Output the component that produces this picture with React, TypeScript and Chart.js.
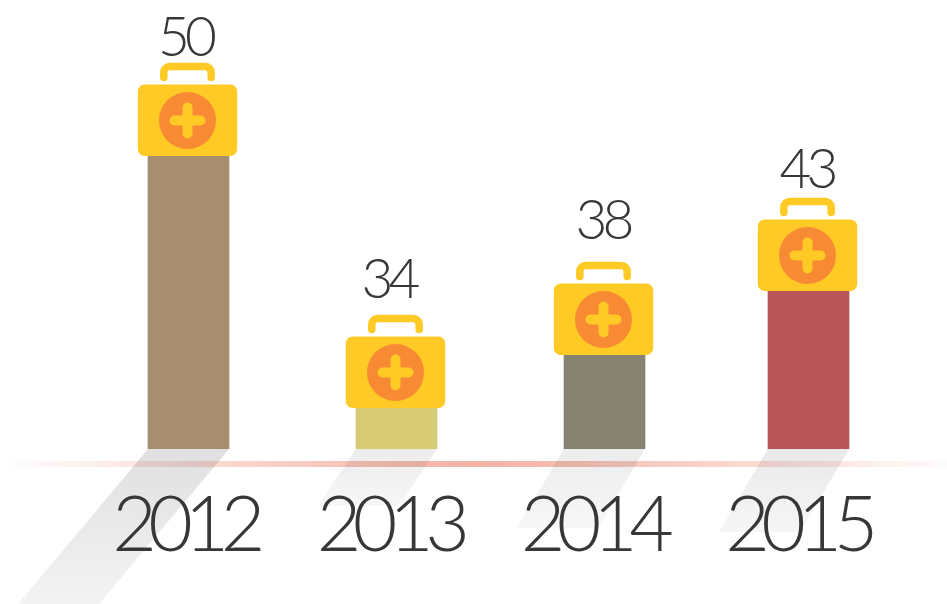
import React, { useEffect, useRef } from "react";
import { Chart, registerables, CategoryScale } from "chart.js";

const years = ["2012", "2013", "2014", "2015"];
const shownValues = [50, 34, 38, 43];
const barLevels = [293, 41, 94, 158];
const barColors = ["#a68e6f", "#d8cb76", "#858271", "#b95558"];

// Layout tweaks, in pixels
const slotNudge = [0, 1.33, 2.67, 0];
const tickNudge = [-4, -7.5, -11.5, -11];
const labelGap = [7, 17, 23, 10];
const labelNudge = [-2.5, -7, -1, -1];
const shadowLength = [155, 57, 79, 83];
const shadowShift = [-130, -38, -47, -49];
const shadowAlpha = [0.12, 0.075, 0.075, 0.085];

const FONT = "Lato";
const TEXT = "#383636";

class SlottedScale extends CategoryScale {
  static id = "slotted";
  getPixelForValue(value: any) {
    const idx = typeof value === "number" ? value : (this as any).parse(value);
    return super.getPixelForValue(idx) + (slotNudge[Math.round(idx)] || 0);
  }
  getPixelForTick(index: number) {
    return super.getPixelForTick(index) + (tickNudge[index] || 0);
  }
  drawLabels(area: any) {
    const ctx = (this as any).ctx;
    ctx.save();
    ctx.letterSpacing = "-8.5px";
    (super.drawLabels as any)(area);
    ctx.restore();
  }
}

Chart.register(...registerables, SlottedScale as any);

function roundRect(ctx: CanvasRenderingContext2D, x: number, y: number, w: number, h: number, r: number) {
  ctx.beginPath();
  ctx.roundRect(x, y, w, h, r);
}

const scenery = {
  id: "scenery",
  beforeDraw(chart: any) {
    const { ctx, width } = chart;
    const base = chart.scales.y.getPixelForValue(0);
    ctx.save();
    const g = ctx.createLinearGradient(4, 0, width, 0);
    g.addColorStop(0, "rgba(240,150,130,0)");
    g.addColorStop(0.5, "rgba(240,165,148,0.85)");
    g.addColorStop(1, "rgba(240,150,130,0.03)");
    ctx.fillStyle = g;
    ctx.fillRect(4, base + 12, width - 4, 6);
    const meta = chart.getDatasetMeta(0);
    meta.data.forEach((bar: any, i: number) => {
      const half = 40.5;
      const len = shadowLength[i];
      const shift = shadowShift[i];
      const sg = ctx.createLinearGradient(0, base, 0, base + len);
      sg.addColorStop(0, `rgba(0,0,0,${shadowAlpha[i]})`);
      sg.addColorStop(1, `rgba(0,0,0,${shadowAlpha[i] * 0.4})`);
      ctx.fillStyle = sg;
      ctx.beginPath();
      ctx.moveTo(bar.x - half, base);
      ctx.lineTo(bar.x + half, base);
      ctx.lineTo(bar.x + half + shift, base + len);
      ctx.lineTo(bar.x - half + shift, base + len);
      ctx.closePath();
      ctx.fill();
    });
    ctx.restore();
  },
  afterDatasetsDraw(chart: any) {
    const { ctx } = chart;
    const meta = chart.getDatasetMeta(0);
    meta.data.forEach((bar: any, i: number) => {
      const cx = bar.x - 1;
      const bottom = bar.y;
      const top = bottom - 71.5;
      ctx.save();
      // handle
      ctx.strokeStyle = "#ffc926";
      ctx.lineWidth = 7.5;
      ctx.lineCap = "round";
      ctx.beginPath();
      ctx.moveTo(cx - 23.7, top - 7);
      ctx.lineTo(cx - 23.7, top - 12);
      ctx.arcTo(cx - 23.7, top - 18, cx - 18, top - 18, 6);
      ctx.lineTo(cx + 18, top - 18);
      ctx.arcTo(cx + 23.7, top - 18, cx + 23.7, top - 12, 6);
      ctx.lineTo(cx + 23.7, top - 7);
      ctx.stroke();
      // body
      ctx.fillStyle = "#ffc926";
      roundRect(ctx, cx - 49.7, top, 99.4, 71.5, 7);
      ctx.fill();
      // disc
      const cy = top + 36;
      ctx.fillStyle = "#f78a33";
      ctx.beginPath();
      ctx.arc(cx, cy, 28.5, 0, Math.PI * 2);
      ctx.fill();
      // plus
      ctx.strokeStyle = "#ffc926";
      ctx.lineWidth = 10;
      ctx.beginPath();
      ctx.moveTo(cx - 13, cy);
      ctx.lineTo(cx + 13, cy);
      ctx.moveTo(cx, cy - 13);
      ctx.lineTo(cx, cy + 13);
      ctx.stroke();
      // value
      ctx.fillStyle = TEXT;
      ctx.font = `300 55px ${FONT}`;
      ctx.textAlign = "center";
      ctx.textBaseline = "alphabetic";
      (ctx as any).letterSpacing = "-5px";
      ctx.fillText(String(shownValues[i]), cx + labelNudge[i], top - 22 - labelGap[i]);
      ctx.restore();
    });
  },
};

export default function App() {
  const ref = useRef<HTMLCanvasElement>(null);
  useEffect(() => {
    document.body.style.margin = "0";
    const chart = new Chart(ref.current!, {
      type: "bar",
      data: {
        labels: years,
        datasets: [{ data: barLevels, backgroundColor: barColors, barThickness: 81, borderWidth: 0 }],
      },
      options: {
        animation: false,
        responsive: false,
        layout: { autoPadding: false, padding: { left: 85.17, right: 35.17, top: 0, bottom: 0 } },
        plugins: { legend: { display: false }, title: { display: false }, tooltip: { enabled: false } },
        scales: {
          x: {
            type: "slotted",
            grid: { display: false },
            border: { display: false },
            ticks: {
              autoSkip: false,
              maxRotation: 0,
              minRotation: 0,
              padding: 23,
              color: TEXT,
              font: { family: FONT, size: 77, weight: "300" },
            },
            afterFit(s: any) {
              s.height = 155;
            },
          },
          y: { display: false, min: 0, max: 449 },
        },
      } as any,
      plugins: [scenery],
    } as any);
    return () => chart.destroy();
  }, []);
  return (
    <div style={{ width: 947, height: 604, overflow: "hidden" }}>
      <canvas ref={ref} width={947} height={604} style={{ display: "block" }} />
    </div>
  );
}
